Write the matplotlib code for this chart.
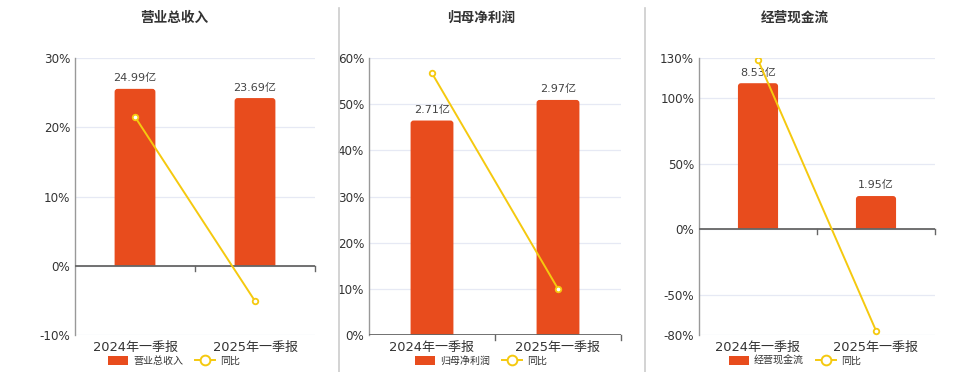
import matplotlib.pyplot as plt
import matplotlib.transforms as mtransforms
from matplotlib.lines import Line2D
from matplotlib.patches import Patch, FancyBboxPatch, Rectangle

plt.rcParams['font.family'] = ['DejaVu Sans', 'Noto Sans CJK SC']

categories = ['2024年一季报', '2025年一季报']

titles = ['营业总收入', '归母净利润', '经营现金流']
bar_values = [[24.99, 23.69], [2.71, 2.97], [8.53, 1.95]]
bar_labels = [['24.99亿', '23.69亿'], ['2.71亿', '2.97亿'], ['8.53亿', '1.95亿']]
yoy_values = [[21.5, -5.1], [56.7, 10.0], [128.5, -76.7]]
pct_ticks = [[-10, 0, 10, 20, 30], [0, 10, 20, 30, 40, 50, 60], [-80, -50, 0, 50, 100, 130]]
bar_tops = [29.35, 3.5, 10.0]

BAR = '#e84c1d'
LINE = '#f5c90f'
GRID = '#e6e9f4'
TEXT = '#333333'

W, H = 960, 372
fig = plt.figure(figsize=(W / 100, H / 100), dpi=100)

# pixel layout: (plot left, plot right, title/legend centre)
layout = [(75, 315, 174), (369, 621, 481), (699, 935, 795)]
top_px, bottom_px = 58, 335
radius_px = 3

for i, (left, right, cx) in enumerate(layout):
    ax = fig.add_axes([left / W, (H - bottom_px) / H, (right - left) / W, (bottom_px - top_px) / H])
    lo, hi = pct_ticks[i][0], pct_ticks[i][-1]

    # base layer: ticks, grid, spines
    ax.set_ylim(lo, hi)
    ax.set_xlim(-0.5, 1.5)
    ax.set_yticks(pct_ticks[i])
    ax.set_yticklabels([f'{t}%' for t in pct_ticks[i]])
    for t in pct_ticks[i]:
        ax.axhline(t, color=GRID, lw=0.9, zorder=0)
    ax.set_xticks([0, 1])
    ax.set_xticklabels(categories)
    ax.tick_params(axis='y', length=0, pad=3.5, labelsize=8.6, labelcolor=TEXT)
    ax.tick_params(axis='x', length=0, pad=4, labelsize=9.4, labelcolor=TEXT)
    for s in ['top', 'right', 'bottom']:
        ax.spines[s].set_visible(False)
    ax.spines['left'].set_color('#999999')
    ax.spines['left'].set_linewidth(1.0)

    # bars on a hidden axis sharing zero with the percent axis
    axb = ax.twinx()
    b_hi = bar_tops[i]
    b_lo = b_hi * lo / hi
    axb.set_ylim(b_lo, b_hi)
    bars = axb.bar([0, 1], bar_values[i], width=0.34, color=BAR, zorder=2)
    # round the top corners only
    rx = radius_px * 2.0 / (right - left)
    ry = radius_px * (b_hi - b_lo) / (bottom_px - top_px)
    for rect in bars:
        rect.set_visible(False)
        x0, w, h = rect.get_x(), rect.get_width(), rect.get_height()
        rounded = FancyBboxPatch((x0, -ry * 2), w, h + ry * 2,
                                 boxstyle=f'round,pad=0,rounding_size={rx}',
                                 mutation_aspect=ry / rx, fc=BAR, ec='none', zorder=2)
        axb.add_patch(rounded)
        clip = Rectangle((x0 - 0.1, 0), w + 0.2, h + 1, transform=axb.transData)
        rounded.set_clip_path(clip)
    for x, v, lab in zip([0, 1], bar_values[i], bar_labels[i]):
        axb.annotate(lab, (x, v), xytext=(0, 4), textcoords='offset points',
                     ha='center', va='bottom', fontsize=8, color='#444444')
    axb.axis('off')

    # line layer
    axl = ax.twinx()
    axl.set_ylim(lo, hi)
    axl.axhline(0, color='#666666', lw=1.3)
    trans = mtransforms.blended_transform_factory(axl.transData, axl.transAxes)
    zero_frac = (0 - lo) / (hi - lo)
    for xb in [0.5, 1.5]:
        axl.plot([xb, xb], [zero_frac, zero_frac - 5 / 277], transform=trans,
                 color='#666666', lw=1.0, clip_on=False)
    axl.plot([0, 1], yoy_values[i], color=LINE, lw=1.4, marker='o', ms=4,
             mfc='white', mec=LINE, mew=1.3, zorder=3)
    axl.axis('off')

    fig.text(cx / W, 1 - 18 / H, titles[i], ha='center', va='center',
             fontsize=9.8, fontweight='bold', color=TEXT)

    handles = [Patch(facecolor=BAR, edgecolor='none'),
               Line2D([0], [0], color=LINE, lw=1.4, marker='o', ms=7, mfc='white', mec=LINE, mew=1.4)]
    fig.legend(handles, [titles[i], '同比'], loc='center', bbox_to_anchor=(cx / W, 1 - 361 / H),
               ncol=2, frameon=False, fontsize=7.2, handlelength=2.0, handleheight=1.0,
               columnspacing=1.2, handletextpad=0.5, labelcolor=TEXT)

# separators between panels
for xs in [339, 645]:
    fig.add_artist(Line2D([xs / W, xs / W], [0, 1 - 8 / H], color='#cccccc', lw=1.2))

fig.savefig('out.png', dpi=100)
